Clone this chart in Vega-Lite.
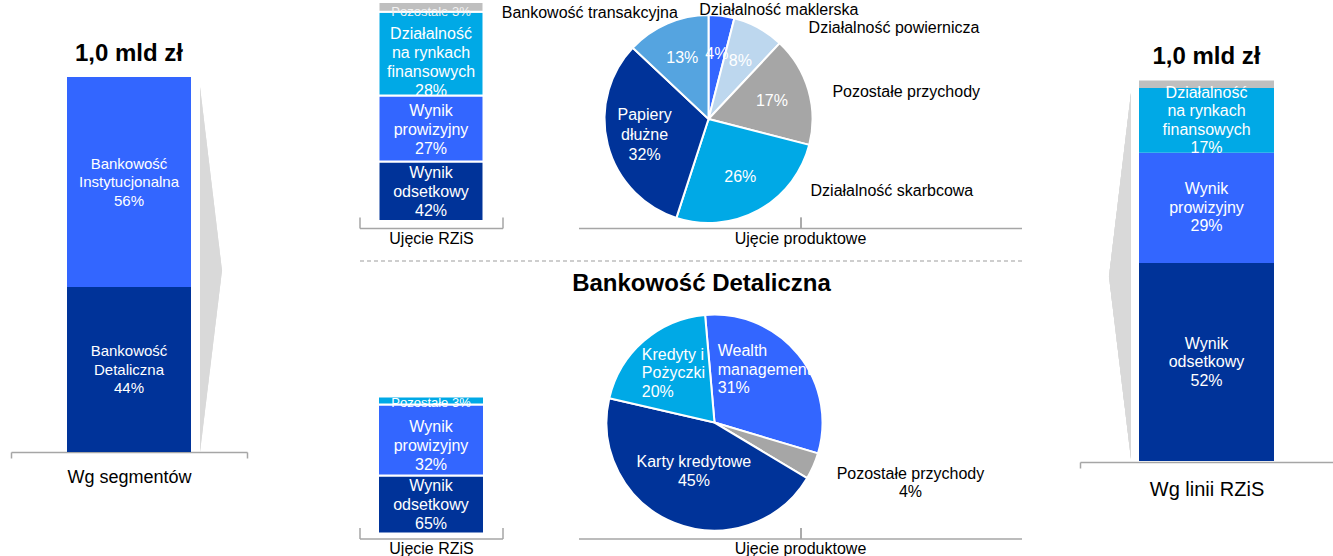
{
  "$schema": "https://vega.github.io/schema/vega-lite/v6.json",
  "padding": {"left": 10, "top": 1, "right": 0, "bottom": 0},
  "autosize": {"type": "pad"},
  "background": "white",
  "config": {
    "view": {"stroke": null},
    "font": "Liberation Sans",
    "text": {"font": "Liberation Sans"},
    "axis": {"grid": false, "labels": false, "titleFont": "Liberation Sans", "titleFontWeight": "normal", "titleColor": "#000000", "domainColor": "#A6A6A6", "tickColor": "#A6A6A6", "domainWidth": 1.5, "tickWidth": 1.5}
  },
  "bounds": "full",
  "spacing": 110.5,
  "resolve": {"scale": {"color": "independent", "theta": "independent", "size": "independent"}},
  "hconcat": [
    {
      "width": 236, "height": 450,
      "data": {"values": [
        {"grp": "Wg segmentów", "seg": "Bankowość Detaliczna", "v": 44, "k": 1, "lab": "Bankowość\nDetaliczna\n44%"},
        {"grp": "Wg segmentów", "seg": "Bankowość Instytucjonalna", "v": 56, "k": 2, "lab": "Bankowość\nInstytucjonalna\n56%"}
      ]},
      "encoding": {
        "x": {"field": "grp", "type": "nominal", "scale": {"paddingInner": 0, "paddingOuter": 0},
              "axis": {"title": "Wg segmentów", "titleFontSize": 18, "titlePadding": 10, "tickSize": 6, "bandPosition": 1, "tickExtra": true}}
      },
      "layer": [
        {"mark": {"type": "point", "shape": "M0.284,-0.56L0.372,0.174L0.284,0.9Z", "size": 250000, "filled": true, "color": "#D9D9D9", "opacity": 1, "strokeWidth": 0}, "encoding": {}},
        {"mark": {"type": "bar", "width": 124},
         "encoding": {
           "y": {"field": "v", "type": "quantitative", "stack": "zero", "scale": {"domain": [0, 120], "nice": false}, "axis": null},
           "color": {"field": "seg", "type": "nominal", "scale": {"domain": ["Bankowość Detaliczna", "Bankowość Instytucjonalna"], "range": ["#003399", "#3366FF"]}, "legend": null},
           "order": {"field": "k", "type": "quantitative"}
         }},
        {"mark": {"type": "text", "color": "white", "fontSize": 15, "lineBreak": "\n", "lineHeight": 18.5, "dy": -18.5},
         "encoding": {
           "y": {"field": "v", "type": "quantitative", "stack": "zero", "bandPosition": 0.5, "scale": {"domain": [0, 120], "nice": false}},
           "text": {"field": "lab"},
           "order": {"field": "k", "type": "quantitative"}
         }},
        {"mark": {"type": "text", "fontSize": 24, "fontWeight": "bold", "baseline": "alphabetic", "dy": -16, "color": "black"},
         "encoding": {
           "y": {"aggregate": "sum", "field": "v", "type": "quantitative"},
           "text": {"value": "1,0 mld zł"}
         }}
      ]
    },
    {
      "bounds": "full",
      "spacing": 57.5,
      "resolve": {"scale": {"color": "independent", "theta": "independent", "size": "independent"}},
      "hconcat": [
        {
          "bounds": "full",
          "spacing": 13.5,
          "resolve": {"scale": {"color": "independent", "theta": "independent", "size": "independent"}},
          "vconcat": [
            {
              "bounds": "flush",
              "spacing": 76,
              "resolve": {"scale": {"color": "independent", "theta": "independent", "size": "independent"}},
              "hconcat": [
                {
                  "width": 143, "height": 219,
                  "data": {"values": [
                    {"grp": "Ujęcie RZiS", "cat": "Wynik odsetkowy", "v": 42, "k": 1, "lab": "Wynik\nodsetkowy\n42%"},
                    {"grp": "Ujęcie RZiS", "cat": "Wynik prowizyjny", "v": 27, "k": 2, "lab": "Wynik\nprowizyjny\n27%"},
                    {"grp": "Ujęcie RZiS", "cat": "Działalność na rynkach finansowych", "v": 28, "k": 3, "lab": "Działalność\nna rynkach\nfinansowych\n28%"},
                    {"grp": "Ujęcie RZiS", "cat": "Pozostałe", "v": 3, "k": 4, "lab": "Pozostałe 3%"}
                  ]},
                  "encoding": {
                    "x": {"field": "grp", "type": "nominal", "scale": {"paddingInner": 0, "paddingOuter": 0},
                          "axis": {"title": "Ujęcie RZiS", "titleFontSize": 16, "titlePadding": 2, "offset": 7, "tickSize": -11, "bandPosition": 1, "tickExtra": true}},
                    "y": {"field": "v", "type": "quantitative", "stack": "zero", "scale": {"type": "pow", "exponent": 1.5, "domain": [0, 100], "nice": false}, "axis": null},
                    "order": {"field": "k", "type": "quantitative"}
                  },
                  "layer": [
                    {"mark": {"type": "bar", "width": 105, "stroke": "white", "strokeWidth": 2},
                     "encoding": {
                       "color": {"field": "cat", "type": "nominal", "scale": {"domain": ["Wynik odsetkowy", "Wynik prowizyjny", "Działalność na rynkach finansowych", "Pozostałe"], "range": ["#003399", "#3366FF", "#00A9E6", "#BFBFBF"]}, "legend": null}
                     }},
                    {"mark": {"type": "text", "lineBreak": "\n", "lineHeight": 19, "dy": -27, "fontSize": 16, "color": "white", "clip": true},
                     "encoding": {
                       "y": {"field": "v", "type": "quantitative", "stack": "zero", "bandPosition": 0.5, "scale": {"type": "pow", "exponent": 1.5, "domain": [0, 100], "nice": false}},
                       "text": {"condition": {"test": "datum.cat === 'Wynik odsetkowy'", "field": "lab"}, "value": ""}
                     }},
                    {"mark": {"type": "text", "lineBreak": "\n", "lineHeight": 19, "dy": -19, "fontSize": 16, "color": "white", "clip": true},
                     "encoding": {
                       "y": {"field": "v", "type": "quantitative", "stack": "zero", "bandPosition": 0.5, "scale": {"type": "pow", "exponent": 1.5, "domain": [0, 100], "nice": false}},
                       "text": {"condition": {"test": "datum.cat === 'Wynik prowizyjny'", "field": "lab"}, "value": ""}
                     }},
                    {"mark": {"type": "text", "lineBreak": "\n", "lineHeight": 19, "dy": -21, "fontSize": 16, "color": "white", "clip": true},
                     "encoding": {
                       "y": {"field": "v", "type": "quantitative", "stack": "zero", "bandPosition": 0.5, "scale": {"type": "pow", "exponent": 1.5, "domain": [0, 100], "nice": false}},
                       "text": {"condition": {"test": "datum.cat === 'Działalność na rynkach finansowych'", "field": "lab"}, "value": ""}
                     }},
                    {"mark": {"type": "text", "fontSize": 13, "color": "#F2F2F2", "dy": 5},
                     "encoding": {
                       "y": {"field": "v", "type": "quantitative", "stack": "zero", "bandPosition": 0.5, "scale": {"type": "pow", "exponent": 1.5, "domain": [0, 100], "nice": false}},
                       "text": {"condition": {"test": "datum.cat === 'Pozostałe'", "field": "lab"}, "value": ""}
                     }}
                  ]
                },
                {
                  "width": 443, "height": 226,
                  "resolve": {"scale": {"x": "independent", "y": "independent"}},
                  "layer": [
                    {"data": {"values": [{"g": "Ujęcie produktowe"}]},
                     "mark": {"type": "text", "text": ""},
                     "encoding": {"x": {"field": "g", "type": "nominal", "scale": {"paddingInner": 0, "paddingOuter": 0},
                       "axis": {"title": "Ujęcie produktowe", "titleFontSize": 16, "titlePadding": 2, "tickSize": -11, "bandPosition": 1, "tickExtra": true}}}},
                    {
                      "data": {"values": [
                        {"panel": "Bankowość Instytucjonalna", "cat": "Działalność maklerska", "v": 4, "k": 1, "inner": "4%"},
                        {"panel": "Bankowość Instytucjonalna", "cat": "Działalność powiernicza", "v": 8, "k": 2, "inner": "8%"},
                        {"panel": "Bankowość Instytucjonalna", "cat": "Pozostałe przychody", "v": 17, "k": 3, "inner": "17%"},
                        {"panel": "Bankowość Instytucjonalna", "cat": "Działalność skarbcowa", "v": 26, "k": 4, "inner": "26%"},
                        {"panel": "Bankowość Instytucjonalna", "cat": "Papiery dłużne", "v": 32, "k": 5, "inner": "Papiery\ndłużne\n32%"},
                        {"panel": "Bankowość Instytucjonalna", "cat": "Bankowość transakcyjna", "v": 13, "k": 6, "inner": "13%"}
                      ]},
                      "encoding": {
                        "x": {"field": "panel", "type": "nominal", "scale": {"type": "point", "align": 0.2935}, "axis": null},
                        "y": {"field": "panel", "type": "nominal", "scale": {"type": "point", "align": 0.5177}, "axis": null},
                        "theta": {"field": "v", "type": "quantitative", "stack": true},
                        "order": {"field": "k", "type": "quantitative"}
                      },
                      "layer": [
                        {"mark": {"type": "arc", "outerRadius": 104, "stroke": "white", "strokeWidth": 2},
                         "encoding": {"color": {"field": "cat", "type": "nominal", "scale": {"domain": ["Działalność maklerska", "Działalność powiernicza", "Pozostałe przychody", "Działalność skarbcowa", "Papiery dłużne", "Bankowość transakcyjna"], "range": ["#3366FF", "#BDD7EE", "#A6A6A6", "#00A9E6", "#003399", "#55A4E0"]}, "legend": null}}},
                        {"mark": {"type": "text", "radius": 66, "fontSize": 16, "color": "white"},
                         "encoding": {"text": {"condition": {"test": "datum.cat !== 'Papiery dłużne'", "field": "inner"}, "value": ""}}},
                        {"mark": {"type": "text", "radius": 66, "fontSize": 16, "color": "white", "lineBreak": "\n", "lineHeight": 20, "dy": -20},
                         "encoding": {"text": {"condition": {"test": "datum.cat === 'Papiery dłużne'", "field": "inner"}, "value": ""}}},
                        {"mark": {"type": "text", "radius": 115, "align": "right", "dx": 15, "color": "black"},
                         "encoding": {"text": {"condition": {"test": "datum.cat === 'Bankowość transakcyjna'", "field": "cat"}, "value": ""},
                                      "size": {"condition": {"test": "datum.cat === 'Bankowość transakcyjna'", "value": 16}, "value": 0}}},
                        {"mark": {"type": "text", "radius": 110, "align": "left", "dx": -23, "color": "black"},
                         "encoding": {"text": {"condition": {"test": "datum.cat === 'Działalność maklerska'", "field": "cat"}, "value": ""},
                                      "size": {"condition": {"test": "datum.cat === 'Działalność maklerska'", "value": 16}, "value": 0}}},
                        {"mark": {"type": "text", "radius": 104, "align": "left", "dx": 50, "color": "black"},
                         "encoding": {"text": {"condition": {"test": "datum.cat === 'Działalność powiernicza'", "field": "cat"}, "value": ""},
                                      "size": {"condition": {"test": "datum.cat === 'Działalność powiernicza'", "value": 16}, "value": 0}}},
                        {"mark": {"type": "text", "radius": 104, "align": "left", "dx": 24, "dy": 2, "color": "black"},
                         "encoding": {"text": {"condition": {"test": "datum.cat === 'Pozostałe przychody'", "field": "cat"}, "value": ""},
                                      "size": {"condition": {"test": "datum.cat === 'Pozostałe przychody'", "value": 16}, "value": 0}}},
                        {"mark": {"type": "text", "radius": 82, "align": "left", "dx": 62.5, "color": "black"},
                         "encoding": {"text": {"condition": {"test": "datum.cat === 'Działalność skarbcowa'", "field": "cat"}, "value": ""},
                                      "size": {"condition": {"test": "datum.cat === 'Działalność skarbcowa'", "value": 16}, "value": 0}}}
                      ]
                    }
                  ]
                }
              ]
            },
            {
              "bounds": "full",
              "spacing": 4,
              "resolve": {"scale": {"color": "independent", "theta": "independent", "size": "independent"}},
              "vconcat": [
                {
                  "width": 662, "height": 46,
                  "data": {"values": [{"t": "Bankowość Detaliczna"}]},
                  "mark": {"type": "text", "fontSize": 24, "fontWeight": "bold", "dx": 11, "color": "black"},
                  "encoding": {
                    "x": {"field": "t", "type": "nominal", "scale": {"paddingInner": 0, "paddingOuter": 0},
                          "axis": {"orient": "top", "domainDash": [4, 3], "domainColor": "#BFBFBF", "domainWidth": 1.5, "ticks": false, "title": null}},
                    "text": {"field": "t"}
                  }
                },
                {
                  "bounds": "flush",
                  "spacing": 76,
                  "resolve": {"scale": {"color": "independent", "theta": "independent", "size": "independent"}},
                  "hconcat": [
                    {
                      "width": 143, "height": 137,
                      "data": {"values": [
                        {"grp": "Ujęcie RZiS", "cat": "Wynik odsetkowy", "v": 65, "k": 1, "lab": "Wynik\nodsetkowy\n65%"},
                        {"grp": "Ujęcie RZiS", "cat": "Wynik prowizyjny", "v": 32, "k": 2, "lab": "Wynik\nprowizyjny\n32%"},
                        {"grp": "Ujęcie RZiS", "cat": "Pozostałe", "v": 3, "k": 3, "lab": "Pozostałe 3%"}
                      ]},
                      "encoding": {
                        "x": {"field": "grp", "type": "nominal", "scale": {"paddingInner": 0, "paddingOuter": 0},
                              "axis": {"title": "Ujęcie RZiS", "titleFontSize": 16, "titlePadding": 1, "offset": 5, "tickSize": -11, "bandPosition": 1, "tickExtra": true}},
                        "y": {"field": "v", "type": "quantitative", "stack": "zero", "scale": {"type": "pow", "exponent": 2, "domain": [0, 100], "nice": false}, "axis": null},
                        "order": {"field": "k", "type": "quantitative"}
                      },
                      "layer": [
                        {"mark": {"type": "bar", "width": 106, "stroke": "white", "strokeWidth": 2},
                         "encoding": {
                           "color": {"field": "cat", "type": "nominal", "scale": {"domain": ["Wynik odsetkowy", "Wynik prowizyjny", "Pozostałe"], "range": ["#003399", "#3366FF", "#00A9E6"]}, "legend": null}
                         }},
                        {"mark": {"type": "text", "lineBreak": "\n", "lineHeight": 19, "dy": -33.5, "fontSize": 16, "color": "white"},
                         "encoding": {
                           "y": {"field": "v", "type": "quantitative", "stack": "zero", "bandPosition": 0.5, "scale": {"type": "pow", "exponent": 2, "domain": [0, 100], "nice": false}},
                           "text": {"condition": {"test": "datum.cat === 'Wynik odsetkowy'", "field": "lab"}, "value": ""}
                         }},
                        {"mark": {"type": "text", "lineBreak": "\n", "lineHeight": 19, "dy": -17, "fontSize": 16, "color": "white"},
                         "encoding": {
                           "y": {"field": "v", "type": "quantitative", "stack": "zero", "bandPosition": 0.5, "scale": {"type": "pow", "exponent": 2, "domain": [0, 100], "nice": false}},
                           "text": {"condition": {"test": "datum.cat === 'Wynik prowizyjny'", "field": "lab"}, "value": ""}
                         }},
                        {"mark": {"type": "text", "fontSize": 13, "color": "white", "dy": 2},
                         "encoding": {
                           "y": {"field": "v", "type": "quantitative", "stack": "zero", "bandPosition": 0.5, "scale": {"type": "pow", "exponent": 2, "domain": [0, 100], "nice": false}},
                           "text": {"condition": {"test": "datum.cat === 'Pozostałe'", "field": "lab"}, "value": ""}
                         }}
                      ]
                    },
                    {
                      "width": 443, "height": 137,
                      "resolve": {"scale": {"x": "independent", "y": "independent"}},
                      "layer": [
                        {"data": {"values": [{"g": "Ujęcie produktowe"}]},
                         "mark": {"type": "text", "text": ""},
                         "encoding": {"x": {"field": "g", "type": "nominal", "scale": {"paddingInner": 0, "paddingOuter": 0},
                           "axis": {"title": "Ujęcie produktowe", "titleFontSize": 16, "titlePadding": 1, "offset": 5, "tickSize": -11, "bandPosition": 1, "tickExtra": true}}}},
                        {
                          "data": {"values": [
                            {"panel": "Bankowość Detaliczna", "cat": "Wealth management", "v": 31, "k": 1, "inner": "Wealth\nmanagement\n31%"},
                            {"panel": "Bankowość Detaliczna", "cat": "Pozostałe przychody", "v": 4, "k": 2, "inner": ""},
                            {"panel": "Bankowość Detaliczna", "cat": "Karty kredytowe", "v": 45, "k": 3, "inner": "Karty kredytowe\n45%"},
                            {"panel": "Bankowość Detaliczna", "cat": "Kredyty i Pożyczki", "v": 20, "k": 4, "inner": "Kredyty i\nPożyczki\n20%"}
                          ]},
                          "encoding": {
                            "x": {"field": "panel", "type": "nominal", "scale": {"type": "point", "align": 0.307}, "axis": null},
                            "y": {"field": "panel", "type": "nominal", "scale": {"type": "point", "align": 0.19}, "axis": null},
                            "theta": {"field": "v", "type": "quantitative", "stack": true, "scale": {"range": [-0.0873, 6.1959]}},
                            "order": {"field": "k", "type": "quantitative"}
                          },
                          "layer": [
                            {"mark": {"type": "arc", "outerRadius": 108, "stroke": "white", "strokeWidth": 2},
                             "encoding": {"color": {"field": "cat", "type": "nominal", "scale": {"domain": ["Wealth management", "Pozostałe przychody", "Karty kredytowe", "Kredyty i Pożyczki"], "range": ["#3366FF", "#A6A6A6", "#003399", "#00A9E6"]}, "legend": null}}},
                            {"mark": {"type": "text", "radius": 55, "dy": -12, "fontSize": 16, "color": "white", "lineBreak": "\n", "lineHeight": 19},
                             "encoding": {"text": {"condition": {"test": "datum.cat === 'Karty kredytowe'", "field": "inner"}, "value": ""}}},
                            {"mark": {"type": "text", "radius": 70, "align": "left", "dx": -51, "dy": -27, "fontSize": 16, "color": "white", "lineBreak": "\n", "lineHeight": 18.5},
                             "encoding": {"text": {"condition": {"test": "datum.cat === 'Wealth management'", "field": "inner"}, "value": ""}}},
                            {"mark": {"type": "text", "radius": 62, "align": "left", "dx": -32, "dy": -21, "fontSize": 16, "color": "white", "lineBreak": "\n", "lineHeight": 18.5},
                             "encoding": {"text": {"condition": {"test": "datum.cat === 'Kredyty i Pożyczki'", "field": "inner"}, "value": ""}}},
                            {"mark": {"type": "text", "radius": 130, "dx": 77, "dy": -1, "color": "black", "lineBreak": "\n", "lineHeight": 18.5},
                             "encoding": {"text": {"condition": {"test": "datum.cat === 'Pozostałe przychody'", "value": "Pozostałe przychody\n4%"}, "value": ""},
                                          "size": {"condition": {"test": "datum.cat === 'Pozostałe przychody'", "value": 16}, "value": 0}}}
                          ]
                        }
                      ]
                    }
                  ]
                }
              ]
            }
          ]
        },
        {
          "width": 253, "height": 459,
          "data": {"values": [
            {"grp": "Wg linii RZiS", "cat": "Wynik odsetkowy", "v": 52, "k": 1, "lab": "Wynik\nodsetkowy\n52%"},
            {"grp": "Wg linii RZiS", "cat": "Wynik prowizyjny", "v": 29, "k": 2, "lab": "Wynik\nprowizyjny\n29%"},
            {"grp": "Wg linii RZiS", "cat": "Działalność na rynkach finansowych", "v": 17, "k": 3, "lab": "Działalność\nna rynkach\nfinansowych\n17%"},
            {"grp": "Wg linii RZiS", "cat": "Pozostałe", "v": 2, "k": 4, "lab": ""}
          ]},
          "encoding": {
            "x": {"field": "grp", "type": "nominal", "scale": {"paddingInner": 0, "paddingOuter": 0},
                  "axis": {"title": "Wg linii RZiS", "titleFontSize": 20, "titlePadding": 11, "offset": 1, "tickSize": 6, "bandPosition": 0}}
          },
          "layer": [
            {"mark": {"type": "point", "shape": "M-0.302,-0.554L-0.39,0.18L-0.302,0.91Z", "size": 250000, "filled": true, "color": "#D9D9D9", "opacity": 1, "strokeWidth": 0}, "encoding": {}},
            {"mark": {"type": "bar", "width": 135},
             "encoding": {
               "y": {"field": "v", "type": "quantitative", "stack": "zero", "scale": {"domain": [0, 120.6], "nice": false}, "axis": null},
               "color": {"field": "cat", "type": "nominal", "scale": {"domain": ["Wynik odsetkowy", "Wynik prowizyjny", "Działalność na rynkach finansowych", "Pozostałe"], "range": ["#003399", "#3366FF", "#00A9E6", "#BFBFBF"]}, "legend": null},
               "order": {"field": "k", "type": "quantitative"}
             }},
            {"mark": {"type": "text", "color": "white", "fontSize": 16, "lineBreak": "\n", "lineHeight": 18.5, "dy": -18.5},
             "encoding": {
               "y": {"field": "v", "type": "quantitative", "stack": "zero", "bandPosition": 0.5, "scale": {"domain": [0, 120.6], "nice": false}},
               "text": {"condition": {"test": "indexof(datum.cat, 'Wynik') === 0", "field": "lab"}, "value": ""},
               "order": {"field": "k", "type": "quantitative"}
             }},
            {"mark": {"type": "text", "color": "white", "fontSize": 16, "lineBreak": "\n", "lineHeight": 18.5, "dy": -27.75},
             "encoding": {
               "y": {"field": "v", "type": "quantitative", "stack": "zero", "bandPosition": 0.5, "scale": {"domain": [0, 120.6], "nice": false}},
               "text": {"condition": {"test": "datum.cat === 'Działalność na rynkach finansowych'", "field": "lab"}, "value": ""},
               "order": {"field": "k", "type": "quantitative"}
             }},
            {"mark": {"type": "text", "fontSize": 24, "fontWeight": "bold", "baseline": "alphabetic", "dy": -16.5, "color": "black"},
             "encoding": {
               "y": {"aggregate": "sum", "field": "v", "type": "quantitative"},
               "text": {"value": "1,0 mld zł"}
             }}
          ]
        }
      ]
    }
  ]
}
